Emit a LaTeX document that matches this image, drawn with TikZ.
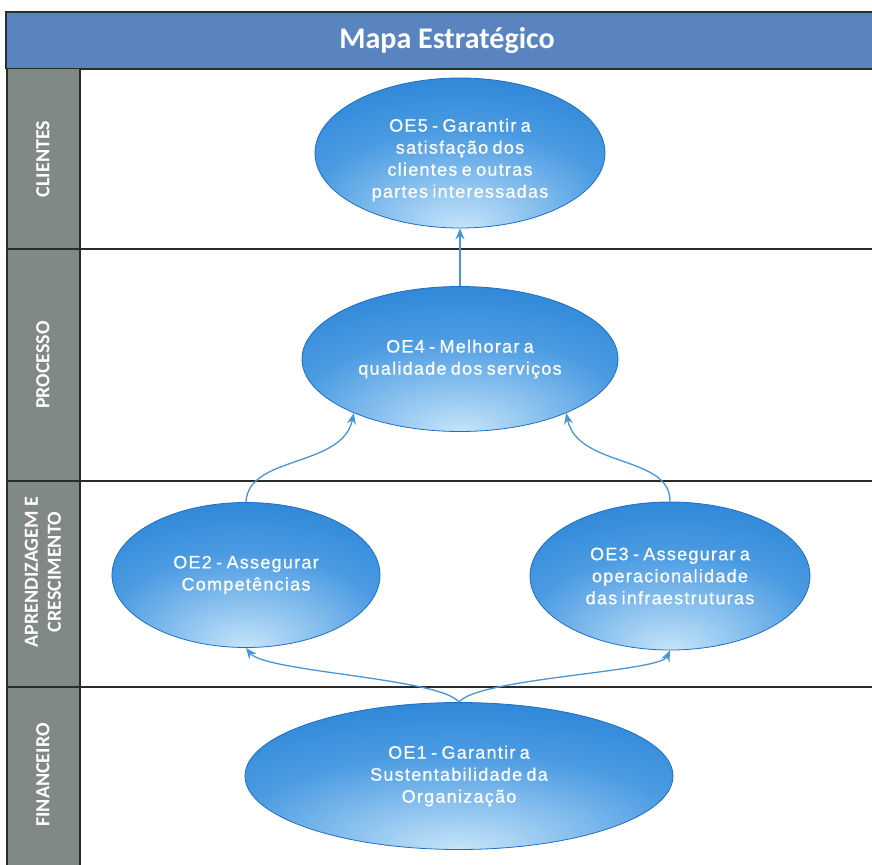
\documentclass[tikz,border=0pt]{standalone}
\usepackage{fontspec}
\setmainfont{Liberation Sans}
\newfontfamily\calib{Carlito}
\newfontfamily\oefont[LetterSpace=7,WordSpace=0.7,FakeBold=0.6]{Liberation Sans}
\usetikzlibrary{shapes.geometric,arrows.meta}
\definecolor{titlebg}{RGB}{90,132,192}
\definecolor{lanebg}{RGB}{128,137,133}
\definecolor{lineclr}{RGB}{40,44,42}
\definecolor{oedark}{RGB}{28,122,210}
\definecolor{oemid}{RGB}{75,155,226}
\definecolor{oelight}{RGB}{200,230,250}
\definecolor{oeedge}{RGB}{30,110,195}
\definecolor{connclr}{RGB}{72,150,215}
\pgfdeclareradialshading{oeshade}{\pgfpoint{0bp}{-26bp}}{color(0bp)=(oelight); color(26bp)=(oemid); color(50bp)=(oedark); color(90bp)=(oedark)}
\tikzset{
  oe/.style={ellipse, draw=oeedge, line width=0.8bp, shading=oeshade, inner sep=0pt,
    text=white, font=\oefont\fontsize{18bp}{22bp}\selectfont, align=center},
  oetext/.style={text=white, font=\oefont\fontsize{18bp}{22bp}\selectfont, align=center, inner sep=0pt},
  conn/.style={draw=connclr, line width=1.3bp, -{Stealth[length=11bp,width=9bp]}},
  lanelbl/.style={rotate=90, text=white, font=\calib\bfseries\fontsize{20bp}{23bp}\selectfont, align=center},
  titletext/.style={text=white, font=\calib\bfseries\fontsize{30bp}{34bp}\selectfont},
  sep/.style={draw=lineclr, line width=1.3bp}
}
\begin{document}
\begin{tikzpicture}[x=1bp, y=-1bp]
\useasboundingbox (0,0) rectangle (872,865);
\fill[white] (0,0) rectangle (872,865);
% title bar
\fill[titlebg] (6,12) rectangle (874,69);
\draw[sep] (6,69) -- (6,12) -- (874,12);
\draw[sep] (6,69) -- (874,69);
\node[titletext] (title) at (447,41) {Mapa Estratégico};
% lane label column
\fill[lanebg] (7,69) rectangle (80,868);
\draw[sep] (7,868) -- (7,69);
\draw[sep] (80,69) -- (80,868);
% lane separators
\draw[sep] (7,249) -- (874,249);
\draw[sep] (7,481) -- (874,481);
\draw[sep] (7,687) -- (874,687);
% lane labels
\node[lanelbl] (lc) at (43,159) {CLIENTES};
\node[lanelbl] (lp) at (43,365) {PROCESSO};
\node[lanelbl] (la) at (43,572) {APRENDIZAGEM E\\CRESCIMENTO};
\node[lanelbl] (lf) at (43,775) {FINANCEIRO};
% objectives
\node[oe, minimum width=290bp, minimum height=150bp,
  label={[oetext, name=OE5t, yshift=-7bp]center:{OE5 - Garantir a\\satisfação dos\\clientes e outras\\partes interessadas}}] (OE5) at (460,153) {};
\node[oe, minimum width=316bp, minimum height=145bp] (OE4) at (460,359) {OE4 - Melhorar a\\qualidade dos serviços};
\node[oe, minimum width=268bp, minimum height=145bp] (OE2) at (246,575) {OE2 - Assegurar\\Competências};
\node[oe, minimum width=280bp, minimum height=148bp] (OE3) at (670,576) {OE3 - Assegurar a\\operacionalidade\\das infraestruturas};
\node[oe, minimum width=428bp, minimum height=147bp] (OE1) at (459,776) {OE1 - Garantir a\\Sustentabilidade da\\Organização};
% connectors
\draw[conn] (OE4.north) -- (OE5.south);
\draw[conn] (OE2.north) .. controls (248,455) and (342,468) .. (OE4.207);
\draw[conn] (OE3.north) .. controls (671,455) and (578,468) .. (OE4.333);
\draw[conn] (OE1.north) .. controls (440,678) and (265,672) .. (OE2.south);
\draw[conn] (OE1.north) .. controls (478,678) and (660,672) .. (OE3.south);
\end{tikzpicture}
\end{document}
